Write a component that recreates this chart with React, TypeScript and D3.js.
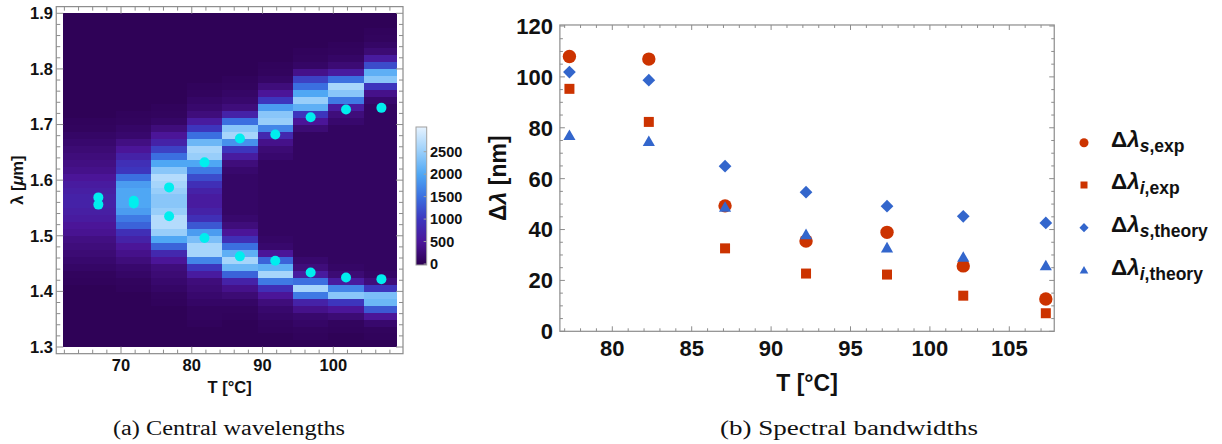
import React from 'react';
import * as d3 from 'd3';

// ---------- Panel (a): heat map data ----------
const heatT = [66.8, 71.8, 76.8, 81.8, 86.8, 91.8, 96.8, 101.8, 106.8];
const heatTRange = [61.8, 109.0];
const lambdaStart = 1.3;
const lambdaStep = 0.0125;
// intensity in hundreds of counts, rows from 1.300 µm upward (48 rows of 0.0125 µm)
const col67 = [0.5,0.5,0.5,0.5,0.5,0.5,0.5,0.5,0.5,0.8,1,1.5,2,2.5,3,3.5,4.5,5,6,6.5,7,7,6.5,6,5,4,3.5,3,2.5,2,1.5,1,0.8,0.5,0.5,0.5,0.5,0.5,0.5,0.5,0.5,0.5,0.5,0.5,0.5,0.5,0.5,0.5];
const col72 = [0.5,0.5,0.5,0.5,0.5,0.5,0.5,0.5,0.8,1,1.5,2,3,4,5,7,9,14,16,19,20,20,20,19,15,10,9,7,5,3.5,2,1.5,1,0.8,0.5,0.5,0.5,0.5,0.5,0.5,0.5,0.5,0.5,0.5,0.5,0.5,0.5,0.5];
const col77 = [0.5,0.5,0.5,0.5,0.5,0.5,0.8,1,1.5,2,2.5,3,5,8,14,20,25,27,27,25,24,24,25,26,27,24,20,15,11,7,5,3,1.5,1,0.8,0.5,0.5,0.5,0.5,0.5,0.5,0.5,0.5,0.5,0.5,0.5,0.5,0.5];
const col82 = [0.5,0.5,0.5,0.8,1,1,1.5,2,2.5,3,6,10,17,26,26,23,19,13,9,7,6,6,7,9,12,16,20,25,26,22,15,10,6,3,2,1.5,1,0.8,0.5,0.5,0.5,0.5,0.5,0.5,0.5,0.5,0.5,0.5];
const col87 = [0.5,0.5,0.5,0.5,0.8,1,1.5,2.5,4,7,14,22,26,21,15,9,5,3,2,1.5,1.5,1.5,1.5,1.5,1.5,2,3,6,10,18,26,24,15,7,3,2,1.5,1,0.8,0.5,0.5,0.5,0.5,0.5,0.5,0.5,0.5,0.5];
const col92 = [0.5,0.5,0.8,1,1.5,2,3,5,9,16,26,21,14,5,2,1.5,1.2,1.2,1.2,1.2,1.2,1.2,1.2,1.2,1.2,1.2,1.2,2,2.5,4,8,17,25,24,19,10,5,3,1.5,1,0.8,0.5,0.5,0.5,0.5,0.5,0.5,0.5];
const col97 = [0.5,0.8,1,1.5,2,4,7,16,26,15,6,3,2,1.2,1.2,1.2,1.2,1.2,1.2,1.2,1.2,1.2,1.2,1.2,1.2,1.2,1.2,1.2,1.2,1.2,1.2,2.5,5,10,21,25,20,15,11,4,1.5,1,0.8,0.5,0.5,0.5,0.5,0.5];
const col102 = [0.5,0.5,0.8,1,2.5,5,10,24,17,6,2.5,1.5,1.2,1.2,1.2,1.2,1.2,1.2,1.2,1.2,1.2,1.2,1.2,1.2,1.2,1.2,1.2,1.2,1.2,1.2,1.2,1.2,2,3,6,16,24,26,15,6,2.5,1.5,1,0.8,0.5,0.5,0.5,0.5];
const col107 = [0.5,0.8,1,2,5,13,22,23,10,3,1.5,1.2,1.2,1.2,1.2,1.2,1.2,1.2,1.2,1.2,1.2,1.2,1.2,1.2,1.2,1.2,1.2,1.2,1.2,1.2,1.2,1.2,1.2,1.2,1.2,2,4,10,24,21,12,6,2.5,1.5,1,0.8,0.5,0.5];
const heatColumns = [col67, col72, col77, col82, col87, col92, col97, col102, col107];

const peakUpper = [1.569, 1.563, 1.587, 1.632, 1.675, 1.682, 1.713, 1.727, 1.730];
const peakLower = [1.556, 1.558, 1.535, 1.496, 1.463, 1.455, 1.434, 1.425, 1.422];

const leftXTicks = [70, 80, 90, 100];
const leftYTicks = [1.3, 1.4, 1.5, 1.6, 1.7, 1.8, 1.9];
const colorbarTicks = [0, 500, 1000, 1500, 2000, 2500];
const colorStopValues = [0, 500, 1000, 1500, 2000, 2500, 3050];
const colorStopColors = ['#2c0050', '#4b1598', '#3d35bd', '#3b6fe0', '#4fa7f4', '#98cefa', '#e6f3ff'];

// ---------- Panel (b): bandwidth data ----------
const bwT = [77.3, 82.3, 87.1, 92.2, 97.3, 102.1, 107.3];
const dlSExp = [108.0, 107.0, 49.3, 35.5, 38.9, 25.7, 12.7];
const dlIExp = [95.3, 82.3, 32.6, 22.7, 22.3, 14.0, 7.1];
const dlSTheory = [101.9, 98.7, 64.9, 54.7, 49.2, 45.2, 42.6];
const dlITheory = [76.6, 74.2, 48.4, 37.6, 32.4, 28.7, 25.4];
const rightXTicks = [80, 85, 90, 95, 100, 105];
const rightYTicks = [0, 20, 40, 60, 80, 100, 120];

const RED = '#cc3300';
const BLUE = '#3366cc';
const FRAME = '#8c8c8c';
const SANS = "'Liberation Sans', Arial, Helvetica, sans-serif";
const SERIF = "'Liberation Serif', 'DejaVu Serif', serif";

function symbolPath(type: d3.SymbolType, size: number) {
  return d3.symbol().type(type).size(size)() as string;
}

export default function App() {
  // left scales
  const xL = d3.scaleLinear().domain([70, 100]).range([121, 333.3]);
  const yL = d3.scaleLinear().domain([1.3, 1.9]).range([347, 13.3]);
  const lf = { x0: xL(60.85), x1: xL(109.85), y0: yL(1.912), y1: yL(1.288) };
  const color = d3.scaleLinear<string>().domain(colorStopValues).range(colorStopColors)
    .interpolate(d3.interpolateRgb).clamp(true);

  const colEdges = heatT.map((t, i) => [
    i === 0 ? heatTRange[0] : (heatT[i - 1] + t) / 2,
    i === heatT.length - 1 ? heatTRange[1] : (t + heatT[i + 1]) / 2,
  ]);

  const cells: JSX.Element[] = [];
  heatColumns.forEach((col, c) => {
    const [ta, tb] = colEdges[c];
    col.forEach((v, k) => {
      const la = lambdaStart + k * lambdaStep;
      const lb = la + lambdaStep;
      cells.push(
        <rect key={`c${c}-${k}`} x={xL(ta)} y={yL(lb)} width={xL(tb) - xL(ta) + 0.4}
          height={yL(la) - yL(lb) + 0.4} fill={color(v * 100)} />
      );
    });
  });

  const lMinorX = d3.range(62, 110, 2).filter(t => t % 10 !== 0);
  const lMinorY = d3.range(0, 31).map(i => 1.3 + i * 0.02).filter((_, i) => i % 5 !== 0);

  // colorbar
  const cbY = d3.scaleLinear().domain([0, 2500]).range([264, 151.7]);
  const cbX0 = 416, cbW = 10.7;
  const cbTop = cbY(3050), cbBot = cbY(0) + 1;

  // right scales
  const xR = d3.scaleLinear().domain([80, 105]).range([612.3, 1009.3]);
  const yR = d3.scaleLinear().domain([0, 120]).range([331.3, 26]);
  const rf = { x0: xR(76.7), x1: xR(107.83), y0: yR(120.4), y1: yR(0) };
  const rMinorX = d3.range(77, 108, 1).filter(t => t % 5 !== 0);
  const rMinorY = d3.range(0, 121, 5).filter(v => v % 20 !== 0);

  const circleBig = symbolPath(d3.symbolCircle, 141);
  const squareBig = symbolPath(d3.symbolSquare, 100);
  const diamondBig = symbolPath(d3.symbolSquare, 81);
  const triBig = symbolPath(d3.symbolTriangle, 64);

  const circleSm = symbolPath(d3.symbolCircle, 64);
  const squareSm = symbolPath(d3.symbolSquare, 49);
  const diamondSm = symbolPath(d3.symbolSquare, 42);
  const triSm = symbolPath(d3.symbolTriangle, 32);

  const series = [
    { vals: dlSExp, path: circleBig, sm: circleSm, fill: RED, rot: 0, sub: 's', rest: ',exp' },
    { vals: dlIExp, path: squareBig, sm: squareSm, fill: RED, rot: 0, sub: 'i', rest: ',exp' },
    { vals: dlSTheory, path: diamondBig, sm: diamondSm, fill: BLUE, rot: 45, sub: 's', rest: ',theory' },
    { vals: dlITheory, path: triBig, sm: triSm, fill: BLUE, rot: 0, sub: 'i', rest: ',theory' },
  ];
  const legendY = [146.7, 189, 231.7, 275];

  return (
    <svg width={1222} height={444} style={{ position: 'absolute', left: 0, top: 0, background: '#fff' }}
      fontFamily={SANS}>
      {/* ---------------- Panel (a) ---------------- */}
      <g shapeRendering="crispEdges">{cells}</g>
      <rect x={lf.x0} y={lf.y0} width={lf.x1 - lf.x0} height={lf.y1 - lf.y0} fill="none" stroke={FRAME} strokeWidth={1.2} />
      <g stroke={FRAME} strokeWidth={1}>
        {leftXTicks.map(t => (
          <g key={`lxt${t}`}>
            <line x1={xL(t)} x2={xL(t)} y1={lf.y1} y2={lf.y1 - 7} />
            <line x1={xL(t)} x2={xL(t)} y1={lf.y0} y2={lf.y0 + 7} />
          </g>
        ))}
        {lMinorX.map(t => (
          <g key={`lxm${t}`}>
            <line x1={xL(t)} x2={xL(t)} y1={lf.y1} y2={lf.y1 - 4} />
            <line x1={xL(t)} x2={xL(t)} y1={lf.y0} y2={lf.y0 + 4} />
          </g>
        ))}
        {leftYTicks.map(v => (
          <g key={`lyt${v}`}>
            <line x1={lf.x0} x2={lf.x0 + 7} y1={yL(v)} y2={yL(v)} />
            <line x1={lf.x1} x2={lf.x1 - 7} y1={yL(v)} y2={yL(v)} />
          </g>
        ))}
        {lMinorY.map((v, i) => (
          <g key={`lym${i}`}>
            <line x1={lf.x0} x2={lf.x0 + 4} y1={yL(v)} y2={yL(v)} />
            <line x1={lf.x1} x2={lf.x1 - 4} y1={yL(v)} y2={yL(v)} />
          </g>
        ))}
      </g>
      <g fill="#00eeee">
        {heatT.map((t, i) => (
          <g key={`pk${i}`}>
            <circle cx={xL(t)} cy={yL(peakUpper[i])} r={5} />
            <circle cx={xL(t)} cy={yL(peakLower[i])} r={5} />
          </g>
        ))}
      </g>
      <g fontWeight="bold" fontSize={16.5} fill="#111">
        {leftXTicks.map(t => (
          <text key={`lxl${t}`} x={xL(t)} y={371} textAnchor="middle">{t}</text>
        ))}
        {leftYTicks.map(v => (
          <text key={`lyl${v}`} x={53} y={yL(v)} dy="0.36em" textAnchor="end">{v.toFixed(1)}</text>
        ))}
        <text x={(lf.x0 + lf.x1) / 2} y={393} textAnchor="middle">T [°C]</text>
        <text transform={`translate(23,${(lf.y0 + lf.y1) / 2}) rotate(-90)`} textAnchor="middle">
          λ [<tspan fontStyle="italic">μ</tspan>m]
        </text>
      </g>
      {/* colorbar */}
      <defs>
        <linearGradient id="cbgrad" x1="0" y1="1" x2="0" y2="0">
          {colorStopValues.map((v, i) => (
            <stop key={`st${i}`} offset={v / 3050} stopColor={colorStopColors[i]} />
          ))}
        </linearGradient>
      </defs>
      <rect x={cbX0} y={cbTop} width={cbW} height={cbBot - cbTop} fill="url(#cbgrad)" stroke="#a0a0a0" strokeWidth={1} />
      <g stroke="#a0a0a0">
        {colorbarTicks.map(v => (
          <line key={`cbt${v}`} x1={cbX0 + cbW} x2={cbX0 + cbW - 3} y1={cbY(v)} y2={cbY(v)} />
        ))}
      </g>
      <g fontWeight="bold" fontSize={14.5} fill="#111">
        {colorbarTicks.map(v => (
          <text key={`cbl${v}`} x={430} y={cbY(v)} dy="0.36em">{v}</text>
        ))}
      </g>

      {/* ---------------- Panel (b) ---------------- */}
      <rect x={rf.x0} y={rf.y0} width={rf.x1 - rf.x0} height={rf.y1 - rf.y0} fill="none" stroke={FRAME} strokeWidth={1.2} />
      <g stroke={FRAME} strokeWidth={1}>
        {rightXTicks.map(t => (
          <g key={`rxt${t}`}>
            <line x1={xR(t)} x2={xR(t)} y1={rf.y1} y2={rf.y1 - 5} />
            <line x1={xR(t)} x2={xR(t)} y1={rf.y0} y2={rf.y0 + 5} />
          </g>
        ))}
        {rMinorX.map(t => (
          <g key={`rxm${t}`}>
            <line x1={xR(t)} x2={xR(t)} y1={rf.y1} y2={rf.y1 - 3} />
            <line x1={xR(t)} x2={xR(t)} y1={rf.y0} y2={rf.y0 + 3} />
          </g>
        ))}
        {rightYTicks.map(v => (
          <g key={`ryt${v}`}>
            <line x1={rf.x0} x2={rf.x0 + 5} y1={yR(v)} y2={yR(v)} />
            <line x1={rf.x1} x2={rf.x1 - 5} y1={yR(v)} y2={yR(v)} />
          </g>
        ))}
        {rMinorY.map(v => (
          <g key={`rym${v}`}>
            <line x1={rf.x0} x2={rf.x0 + 3} y1={yR(v)} y2={yR(v)} />
            <line x1={rf.x1} x2={rf.x1 - 3} y1={yR(v)} y2={yR(v)} />
          </g>
        ))}
      </g>
      {series.map((s, si) => (
        <g key={`ser${si}`} fill={s.fill}>
          {s.vals.map((v, i) => (
            <path key={`m${si}-${i}`} d={s.path}
              transform={`translate(${xR(bwT[i])},${yR(v)}) rotate(${s.rot})`} />
          ))}
        </g>
      ))}
      <g fontWeight="bold" fontSize={22} fill="#111">
        {rightXTicks.map(t => (
          <text key={`rxl${t}`} x={xR(t)} y={356} textAnchor="middle">{t}</text>
        ))}
        {rightYTicks.map(v => (
          <text key={`ryl${v}`} x={553} y={yR(v)} dy="0.36em" textAnchor="end">{v}</text>
        ))}
        <text x={(rf.x0 + rf.x1) / 2} y={391} textAnchor="middle" fontSize={23}>T [°C]</text>
        <text transform={`translate(506,${(rf.y0 + rf.y1) / 2}) rotate(-90)`} textAnchor="middle" fontSize={23}>
          Δ<tspan fontStyle="italic">λ</tspan> [nm]
        </text>
      </g>
      {/* legend */}
      {series.map((s, si) => (
        <g key={`leg${si}`}>
          <path d={s.sm} fill={s.fill} transform={`translate(1084,${legendY[si] - 4}) rotate(${s.rot})`} />
          <text x={1111} y={legendY[si]} fontWeight="bold" fontSize={22.5} fill="#111">
            Δ<tspan fontStyle="italic">λ</tspan>
            <tspan fontSize={17.5} dy={5} fontStyle="italic">{s.sub}</tspan>
            <tspan fontSize={17.5}>{s.rest}</tspan>
          </text>
        </g>
      ))}

      {/* captions */}
      <text x={229} y={435} textAnchor="middle" fontFamily={SERIF} fontSize={20} fill="#111"
        textLength={232} lengthAdjust="spacingAndGlyphs">(a) Central wavelengths</text>
      <text x={849} y={435} textAnchor="middle" fontFamily={SERIF} fontSize={20} fill="#111"
        textLength={258} lengthAdjust="spacingAndGlyphs">(b) Spectral bandwidths</text>
    </svg>
  );
}
